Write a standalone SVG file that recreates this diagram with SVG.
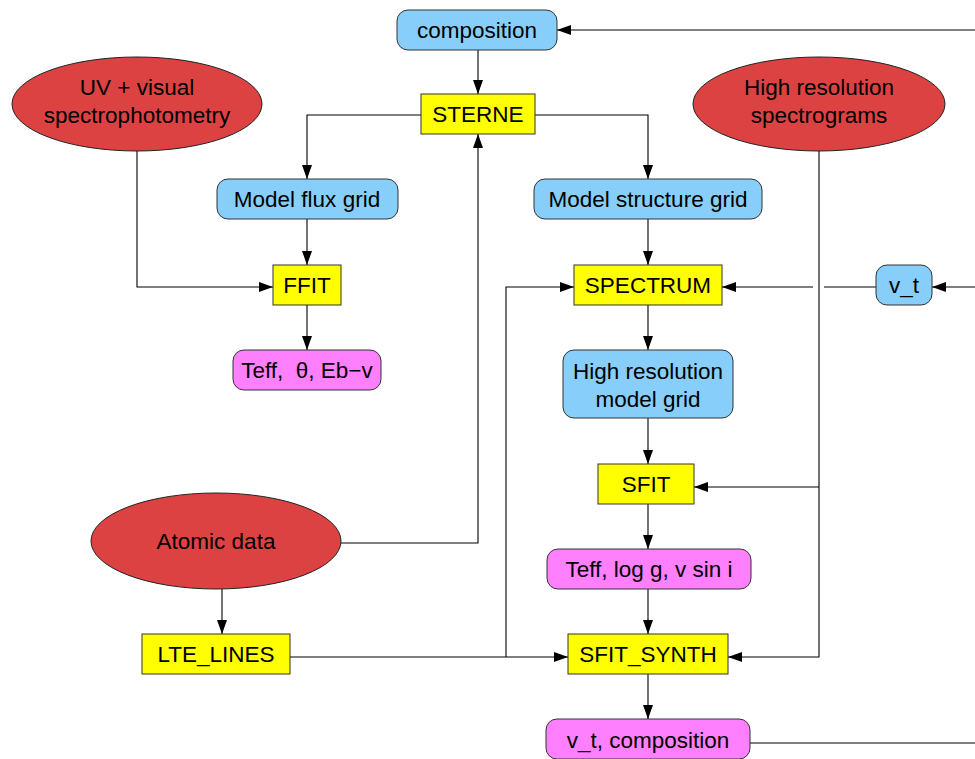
<svg xmlns="http://www.w3.org/2000/svg" width="975" height="759" viewBox="0 0 975 759">
<defs>
<marker id="arr" markerWidth="15" markerHeight="10" refX="14" refY="5" orient="auto" markerUnits="userSpaceOnUse">
<path d="M0,0 L14,5 L0,10 z" fill="#000"/>
</marker>
<style>
.blue{fill:#87cefa;stroke:#333;stroke-width:1}
.mag{fill:#ff80ff;stroke:#333;stroke-width:1}
.yel{fill:#ffff00;stroke:#333;stroke-width:1}
.red{fill:#dc4242;stroke:#222;stroke-width:1}
text{font-family:"Liberation Sans",Arial,sans-serif;font-size:22.5px;fill:#000;text-anchor:middle}
.c path{fill:none;stroke:#000;stroke-width:1.1}
.c .a{marker-end:url(#arr)}
</style>
</defs>
<rect width="975" height="759" fill="#fff"/>
<g class="c" id="connectors">
<path class="a" d="M478,50 V94"/>
<path class="a" d="M975,30 H557"/>
<path class="a" d="M421,115 H307 V179"/>
<path class="a" d="M535,115 H648 V179"/>
<path class="a" d="M307,219 V265"/>
<path class="a" d="M137,151 V287 H273"/>
<path class="a" d="M307,305 V350"/>
<path class="a" d="M648,219 V265"/>
<path class="a" d="M648,305 V350"/>
<path class="a" d="M648,418 V464"/>
<path class="a" d="M648,504 V549"/>
<path class="a" d="M648,589 V634"/>
<path class="a" d="M648,674 V719"/>
<path class="a" d="M341,543 H478 V134"/>
<path class="a" d="M222,589 V634"/>
<path class="a" d="M290,657 H568"/>
<path class="a" d="M506,657 V287 H574"/>
<path class="a" d="M819,151 V657 H728"/>
<path class="a" d="M819,487 H694"/>
<path d="M876,287 H824"/>
<path class="a" d="M813,287 H722"/>
<path class="a" d="M975,287 H932"/>
<path d="M750,743 H975"/>
</g>
<g id="composition"><rect class="blue" x="397" y="10" width="160" height="40" rx="11"/><text x="477" y="38">composition</text></g>
<g id="sterne"><rect class="yel" x="421" y="94" width="114" height="40"/><text x="478" y="122">STERNE</text></g>
<g id="uv"><ellipse class="red" cx="137" cy="104" rx="125" ry="47"/><text x="137" y="95">UV + visual</text><text x="137" y="123">spectrophotometry</text></g>
<g id="hires"><ellipse class="red" cx="819" cy="104" rx="126" ry="47"/><text x="819" y="95">High resolution</text><text x="819" y="123">spectrograms</text></g>
<g id="fluxgrid"><rect class="blue" x="217" y="179" width="181" height="40" rx="11"/><text x="307" y="207">Model flux grid</text></g>
<g id="structgrid"><rect class="blue" x="534" y="179" width="228" height="40" rx="11"/><text x="648" y="207">Model structure grid</text></g>
<g id="ffit"><rect class="yel" x="273" y="265" width="68" height="40"/><text x="307" y="293">FFIT</text></g>
<g id="spectrum"><rect class="yel" x="574" y="265" width="148" height="40"/><text x="648" y="293">SPECTRUM</text></g>
<g id="vt"><rect class="blue" x="876" y="265" width="56" height="40" rx="11"/><text x="904" y="293">v_t</text></g>
<g id="teff1"><rect class="mag" x="233" y="350" width="148" height="40" rx="11"/><text x="307" y="378" xml:space="preserve" style="white-space:pre">Teff,  θ, Eb−v</text></g>
<g id="hrgrid"><rect class="blue" x="563" y="350" width="170" height="68" rx="11"/><text x="648" y="379">High resolution</text><text x="648" y="407">model grid</text></g>
<g id="sfit"><rect class="yel" x="598" y="464" width="96" height="40"/><text x="646" y="492">SFIT</text></g>
<g id="atomic"><ellipse class="red" cx="216" cy="541" rx="125" ry="48"/><text x="216" y="549">Atomic data</text></g>
<g id="teff2"><rect class="mag" x="547" y="549" width="204" height="40" rx="11"/><text x="649" y="577">Teff, log g, v sin i</text></g>
<g id="lte"><rect class="yel" x="142" y="634" width="148" height="40"/><text x="216" y="662">LTE_LINES</text></g>
<g id="sfitsynth"><rect class="yel" x="568" y="634" width="160" height="40"/><text x="648" y="662">SFIT_SYNTH</text></g>
<g id="vtcomp"><rect class="mag" x="546" y="719" width="204" height="40" rx="11"/><text x="648" y="748">v_t, composition</text></g>
</svg>
